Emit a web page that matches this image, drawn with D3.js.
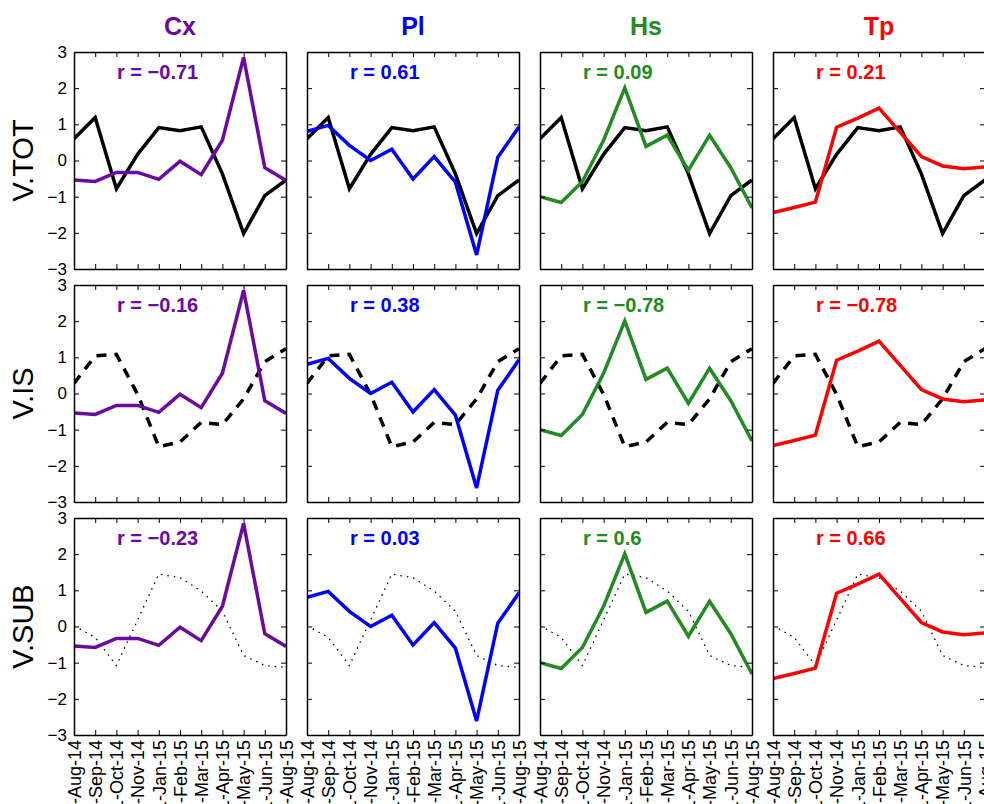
<!DOCTYPE html>
<html>
<head>
<meta charset="utf-8">
<script src="https://cdn.jsdelivr.net/npm/d3@7"></script>
<style>
  body { margin: 0; background: #fff; }
  svg { display: block; font-family: "Liberation Sans", Arial, Helvetica, sans-serif; }
</style>
</head>
<body>
<svg></svg>
<script>
// SVG
var width = 984;
var height = 804;

// Data
var months = ["Aug-14", "Sep-14", "Oct-14", "Nov-14", "Jan-15", "Feb-15",
              "Mar-15", "Apr-15", "May-15", "Jun-15", "Aug-15"];

// black reference series, one per row
var vTot = [0.6, 1.19, -0.78, 0.17, 0.91, 0.82, 0.93, -0.37, -2.02, -0.97, -0.54];
var vIs  = [0.28, 1.04, 1.08, -0.02, -1.47, -1.34, -0.8, -0.86, -0.15, 0.88, 1.24];
var vSub = [0.02, -0.3, -1.08, 0.18, 1.45, 1.35, 0.98, 0.42, -0.8, -1.08, -1.13];

// coloured series, one per column
var cx = [-0.54, -0.58, -0.33, -0.33, -0.52, -0.02, -0.39, 0.56, 2.85, -0.2, -0.55];
var pl = [0.81, 0.97, 0.42, 0.0, 0.31, -0.51, 0.11, -0.6, -2.61, 0.09, 0.93];
var hs = [-1.0, -1.16, -0.58, 0.56, 2.01, 0.39, 0.7, -0.27, 0.7, -0.2, -1.31];
var tp = [-1.44, -1.3, -1.15, 0.92, 1.17, 1.45, 0.78, 0.11, -0.15, -0.23, -0.18];

// correlation r per column, rows TOT / IS / SUB
var rCx = [-0.71, -0.16, -0.23];
var rPl = [0.61, 0.38, 0.03];
var rHs = [0.09, -0.78, 0.6];
var rTp = [0.21, -0.78, 0.66];

var rowNames = ["V.TOT", "V.IS", "V.SUB"];
var yTicks = [-3, -2, -1, 0, 1, 2, 3];

var cols = [
  {name: "Cx", color: "#6a0aa0", values: cx, r: rCx},
  {name: "Pl", color: "#0000ff", values: pl, r: rPl},
  {name: "Hs", color: "#228b22", values: hs, r: rHs},
  {name: "Tp", color: "#ff0000", values: tp, r: rTp}
];
var rows = [
  {name: rowNames[0], values: vTot, dash: null, w: 3.5},
  {name: rowNames[1], values: vIs, dash: "10,8", w: 3.5},
  {name: rowNames[2], values: vSub, dash: "1.5,5", w: 1.3}
];

// layout
var left0 = 74, top0 = 52;
var pw = 212, ph = 217;
var colStep = 233, rowStep = 233;

var xScale = d3.scaleLinear().domain([0, months.length - 1]).range([0, pw]);
var yScale = d3.scaleLinear().domain([-3, 3]).range([ph, 0]);

var svg = d3.select("svg")
    .attr("width", width)
    .attr("height", height);

var line = d3.line()
    .x(function(d, i) { return xScale(i); })
    .y(function(d) { return yScale(d); });

var fmtR = function(v) { return "r = " + (v < 0 ? "\u2212" : "") + Math.abs(v); };

// column titles
cols.forEach(function(c, ci) {
  svg.append("text")
      .attr("x", left0 + ci * colStep + pw / 2)
      .attr("y", 35)
      .attr("text-anchor", "middle")
      .attr("font-size", 25)
      .attr("font-weight", "bold")
      .attr("fill", c.color)
      .text(c.name);
});

// row labels
rows.forEach(function(r, ri) {
  var cy = top0 + ri * rowStep + ph / 2;
  svg.append("text")
      .attr("transform", "translate(33," + cy + ") rotate(-90)")
      .attr("text-anchor", "middle")
      .attr("font-size", 29)
      .attr("fill", "#000")
      .text(r.name);
});

rows.forEach(function(r, ri) {
  cols.forEach(function(c, ci) {
    var g = svg.append("g")
        .attr("transform", "translate(" + (left0 + ci * colStep) + "," + (top0 + ri * rowStep) + ")");

    // clip lines to the panel
    var clipId = "clip" + ri + ci;
    g.append("clipPath").attr("id", clipId)
      .append("rect").attr("width", pw).attr("height", ph);

    var lines = g.append("g").attr("clip-path", "url(#" + clipId + ")");

    lines.append("path")
        .attr("fill", "none")
        .attr("stroke", "#000")
        .attr("stroke-width", r.w)
        .attr("stroke-dasharray", r.dash)
        .attr("d", line(r.values));

    lines.append("path")
        .attr("fill", "none")
        .attr("stroke", c.color)
        .attr("stroke-width", 3.5)
        .attr("stroke-linejoin", "miter")
        .attr("d", line(c.values));

    // axes, ticks pointing inwards on all four sides
    var idx = d3.range(months.length);
    var bottom = d3.axisBottom(xScale).tickValues(idx).tickSize(-5).tickSizeOuter(0)
        .tickFormat(ri === 2 ? function(i) { return "01-" + months[i]; } : "");
    var top = d3.axisTop(xScale).tickValues(idx).tickSize(-5).tickSizeOuter(0).tickFormat("");
    var leftAx = d3.axisLeft(yScale).tickValues(yTicks).tickSize(-5).tickSizeOuter(0)
        .tickPadding(7)
        .tickFormat(ci === 0 ? d3.format("d") : "");
    var rightAx = d3.axisRight(yScale).tickValues(yTicks).tickSize(-5).tickSizeOuter(0).tickFormat("");

    var gb = g.append("g").attr("transform", "translate(0," + ph + ")").call(bottom);
    g.append("g").call(top);
    g.append("g").call(leftAx);
    g.append("g").attr("transform", "translate(" + pw + ",0)").call(rightAx);

    g.selectAll(".domain").attr("stroke", "#000").attr("stroke-width", 1.5);
    g.selectAll(".tick line").attr("stroke", "#000").attr("stroke-width", 1);
    g.selectAll(".tick text").attr("fill", "#000").attr("font-size", 17)
        .attr("font-family", "'Liberation Sans', Arial, sans-serif");

    gb.selectAll(".tick text")
        .attr("y", 0)
        .attr("x", -5)
        .attr("dy", "0.35em")
        .attr("transform", "rotate(-90)")
        .attr("font-size", 18)
        .style("text-anchor", "end");

    // correlation label
    g.append("text")
        .attr("x", 43)
        .attr("y", 27)
        .attr("font-size", 20)
        .attr("font-weight", "bold")
        .attr("fill", c.color)
        .text(fmtR(c.r[ri]));
  });
});
</script>
</body>
</html>
